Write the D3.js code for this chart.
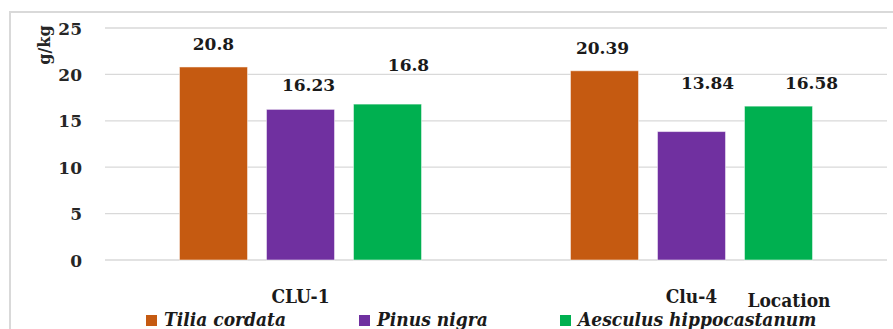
<!DOCTYPE html>
<html>
<head>
<meta charset="utf-8">
<script src="https://cdn.jsdelivr.net/npm/d3@7"></script>
<style>
  body { margin: 0; background: #fff; }
  svg { display: block; }
  .serif { font-family: "DejaVu Serif", "Liberation Serif", serif; font-weight: bold; }
  .narrow { font-family: "DejaVu Serif", serif; font-stretch: condensed; font-weight: bold; }
</style>
</head>
<body>
<script>
// data
const locations = ["CLU-1", "Clu-4"]
const species = ["Tilia cordata", "Pinus nigra", "Aesculus hippocastanum"]
const tiliaValues = [20.8, 20.39]
const pinusValues = [16.23, 13.84]
const aesculusValues = [16.8, 16.58]
const yTicks = [0, 5, 10, 15, 20, 25]

const colors = ["#C55A11", "#7030A0", "#00B050"]
// label nudges (dx, dy) as placed by hand in the original
const labelNudge = [[0, 0], [8, -1], [21, -16], [-2, 0], [16, -26], [33, 0]]
const legendX = [146, 359, 560]

const width = 893, height = 329
const plot = { left: 105, right: 887, top: 28, bottom: 260 }

const svg = d3.select("body").append("svg")
    .attr("width", width)
    .attr("height", height)

// outer border of the chart area
svg.append("rect")
    .attr("x", 10).attr("y", 12)
    .attr("width", 900).attr("height", 330)
    .attr("fill", "none")
    .attr("stroke", "#d9d9d9")
    .attr("stroke-width", 2)

const y = d3.scaleLinear().domain([0, 25]).range([plot.bottom, plot.top])
const x0 = d3.scaleBand().domain(locations).range([plot.left, plot.right])
const x1 = d3.scaleBand().domain(species).range([0, x0.bandwidth()])
    .paddingInner(0.218).paddingOuter(0.856)

// gridlines
svg.append("g").selectAll("line")
    .data(yTicks)
    .enter().append("line")
    .attr("x1", plot.left).attr("x2", plot.right)
    .attr("y1", d => y(d)).attr("y2", d => y(d))
    .attr("stroke", "#d9d9d9")
    .attr("stroke-width", 1.3)

// y axis
const yAxis = svg.append("g")
    .attr("transform", "translate(" + (plot.left - 23) + ",0)")
    .call(d3.axisLeft(y).tickValues(yTicks).tickSize(0).tickPadding(0))
yAxis.select(".domain").remove()
yAxis.selectAll("text")
    .attr("dy", "0.36em")
    .attr("class", "serif")
    .attr("font-family", null)
    .style("font-size", "17px")
    .attr("fill", "#262626")

svg.append("text")
    .attr("class", "serif")
    .attr("transform", "translate(50,45) rotate(-90)")
    .attr("text-anchor", "middle")
    .style("font-size", "16px")
    .attr("fill", "#262626")
    .text("g/kg")

// bars
const series = [tiliaValues, pinusValues, aesculusValues]
const rows = []
locations.forEach((loc, i) => {
    species.forEach((sp, j) => {
        rows.push({ loc: loc, sp: sp, value: series[j][i], color: colors[j] })
    })
})

svg.append("g").selectAll("rect")
    .data(rows)
    .enter().append("rect")
    .attr("x", d => x0(d.loc) + x1(d.sp))
    .attr("y", d => y(d.value))
    .attr("width", x1.bandwidth())
    .attr("height", d => y(0) - y(d.value))
    .attr("fill", d => d.color)
    .attr("stroke", "#ffffff")
    .attr("stroke-opacity", 0.5)

// value labels
svg.append("g").selectAll("text")
    .data(rows)
    .enter().append("text")
    .attr("class", "serif")
    .attr("x", (d, i) => x0(d.loc) + x1(d.sp) + x1.bandwidth() / 2 + labelNudge[i][0])
    .attr("y", (d, i) => y(d.value) - 17 + labelNudge[i][1])
    .attr("text-anchor", "middle")
    .style("font-size", "17px")
    .attr("fill", "#1a1a1a")
    .text(d => d.value)

// category labels
svg.append("g").selectAll("text")
    .data(locations)
    .enter().append("text")
    .attr("class", "narrow")
    .attr("x", d => x0(d) + x0.bandwidth() / 2)
    .attr("y", 303)
    .attr("text-anchor", "middle")
    .style("font-size", "19px")
    .attr("fill", "#1a1a1a")
    .text(d => d)

svg.append("text")
    .attr("class", "narrow")
    .attr("x", 789).attr("y", 307)
    .attr("text-anchor", "middle")
    .style("font-size", "19px")
    .attr("fill", "#1a1a1a")
    .text("Location")

// legend
const legend = svg.append("g").selectAll("g")
    .data(species)
    .enter().append("g")
    .attr("transform", (d, i) => "translate(" + legendX[i] + ",315)")

legend.append("rect")
    .attr("width", 11).attr("height", 11)
    .attr("fill", (d, i) => colors[i])

legend.append("text")
    .attr("class", "narrow")
    .attr("x", 18).attr("y", 11)
    .style("font-style", "italic")
    .style("font-size", "19px")
    .attr("fill", "#1a1a1a")
    .text(d => d)
</script>
</body>
</html>
